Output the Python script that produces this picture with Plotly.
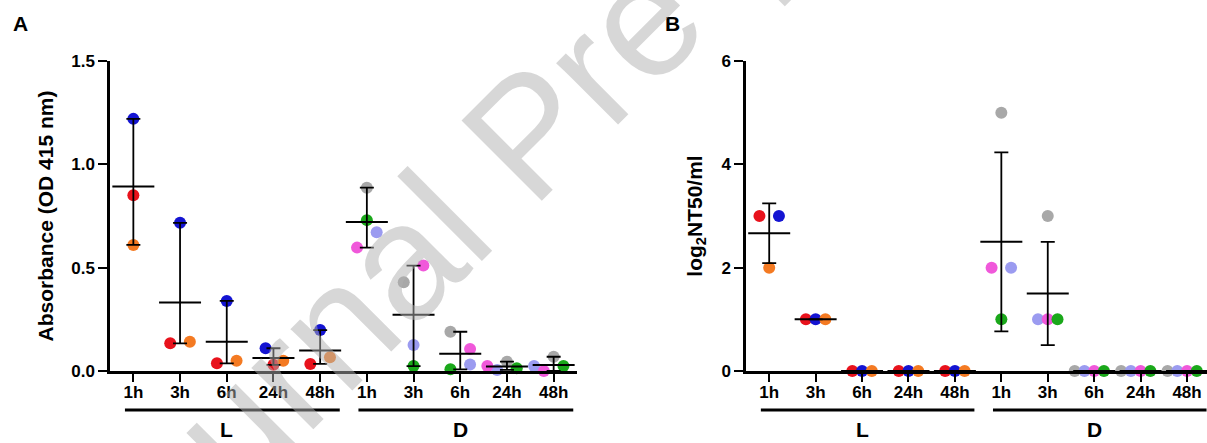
import numpy as np
import plotly.graph_objects as go

# ---------------- data ----------------
timepoints = ["1h", "3h", "6h", "24h", "48h"]
groups = ["L", "D"]

# Panel A : Absorbance (OD 415 nm), one list per subject
A_L_red = [0.850, 0.134, 0.037, 0.030, 0.034]
A_L_blue = [1.220, 0.717, 0.339, 0.110, 0.198]
A_L_orange = [0.610, 0.142, 0.050, 0.050, 0.066]
A_D_gray = [0.887, 0.429, 0.190, 0.045, 0.069]
A_D_lavender = [0.671, 0.126, 0.032, 0.005, 0.024]
A_D_pink = [0.597, 0.510, 0.106, 0.024, 0.000]
A_D_green = [0.730, 0.024, 0.008, 0.013, 0.024]

# Panel B : log2 NT50/ml
B_L_red = [3, 1, 0, 0, 0]
B_L_blue = [3, 1, 0, 0, 0]
B_L_orange = [2, 1, 0, 0, 0]
B_D_gray = [5, 3, 0, 0, 0]
B_D_lavender = [2, 1, 0, 0, 0]
B_D_pink = [2, 1, 0, 0, 0]
B_D_green = [1, 1, 0, 0, 0]

# ---------------- style ----------------
COL = {"red": "#e8121c", "blue": "#1414d2", "orange": "#f47a22",
       "gray": "#a8a8a8", "lavender": "#9b9bf0", "pink": "#f058da", "green": "#1aa81a"}

# horizontal spreading of overlapping dots (in slot units)
SLOT = 0.21
jit_A = {
    "L": {"red": [0, -1, -1, 0, -1], "blue": [0, 0, 0, -0.8, 0], "orange": [0, 1, 1, 1, 1]},
    "D": {"gray": [0, -1, -1, 0, 0], "lavender": [1, 0, 1, -1, -2],
          "pink": [-1, 1, 1, -2, -1], "green": [0, 0, -1, 1, 1]},
}
jit_B = {
    "L": {"red": [-1, -1, -1, -1, -1], "blue": [1, 0, 0, 0, 0], "orange": [0, 1, 1, 1, 1]},
    "D": {"gray": [0, 0, -2, -2, -2], "lavender": [1, -1, -1, -1, -1],
          "pink": [-1, 0, 0, 0, 0], "green": [0, 1, 1, 1, 1]},
}

panel_A = {"L": {"red": A_L_red, "blue": A_L_blue, "orange": A_L_orange},
           "D": {"gray": A_D_gray, "lavender": A_D_lavender, "pink": A_D_pink, "green": A_D_green}}
panel_B = {"L": {"red": B_L_red, "blue": B_L_blue, "orange": B_L_orange},
           "D": {"gray": B_D_gray, "lavender": B_D_lavender, "pink": B_D_pink, "green": B_D_green}}

W, H = 1207, 443
FONT = "Arial, Liberation Sans, sans-serif"


def px(x):
    return x / W


def py(y):
    return 1 - y / H


fig = go.Figure()


def add_panel(panel, jit, xa, ya, err_mode):
    n = len(timepoints)
    for gi, g in enumerate(groups):
        base = np.arange(n) + gi * n
        subj = panel[g]
        for name, vals in subj.items():
            xs = base + np.array(jit[g][name]) * SLOT
            fig.add_trace(go.Scatter(
                x=xs, y=vals, mode="markers", xaxis=xa, yaxis=ya,
                marker=dict(size=12, color=COL[name], line=dict(width=0)),
                cliponaxis=False, showlegend=False, name=f"{g} {name}"))
        arr = np.array(list(subj.values()), dtype=float)
        mean = arr.mean(axis=0)
        if err_mode == "range":
            up = arr.max(axis=0) - mean
            dn = mean - arr.min(axis=0)
        else:
            sd = arr.std(axis=0, ddof=1)
            up, dn = sd, sd
        fig.add_trace(go.Scatter(
            x=base, y=mean, mode="markers", xaxis=xa, yaxis=ya,
            marker=dict(symbol="line-ew", size=30, color="black",
                        line=dict(width=2, color="black")),
            error_y=dict(type="data", symmetric=False, array=up, arrayminus=dn,
                         width=7, thickness=1.8, color="black"),
            cliponaxis=False, showlegend=False, name=f"{g} mean"))


add_panel(panel_A, jit_A, "x", "y", "range")
add_panel(panel_B, jit_B, "x2", "y2", "sd")

ticktext = timepoints * len(groups)
tickvals = list(range(len(ticktext)))

axis_common = dict(showline=True, linewidth=2.5, linecolor="black", showgrid=False,
                   zeroline=False, ticks="outside", tickwidth=2, tickcolor="black",
                   automargin=False,
                   tickfont=dict(family=FONT, size=17, color="black", weight="bold"))

y_dom = [py(371), py(61)]

fig.update_layout(
    width=W, height=H, margin=dict(l=0, r=0, t=0, b=0, pad=0),
    paper_bgcolor="white", plot_bgcolor="white",
    xaxis=dict(domain=[px(110), px(577)], range=[-0.5, 9.5], anchor="y",
               tickvals=tickvals, ticktext=ticktext, ticklen=8, ticklabelstandoff=-4,
               **axis_common),
    yaxis=dict(domain=y_dom, range=[0, 1.5], anchor="x",
               tickvals=[0, 0.5, 1.0, 1.5], ticktext=["0.0", "0.5", "1.0", "1.5"], ticklen=9,
               title=dict(text="Absorbance (OD 415 nm)", standoff=12,
                          font=dict(family=FONT, size=21, color="black", weight="bold")),
               **axis_common),
    xaxis2=dict(domain=[px(746), 1.0], range=[-0.5, 9.43], anchor="y2",
                tickvals=tickvals, ticktext=ticktext, ticklen=8, ticklabelstandoff=-4,
                **axis_common),
    yaxis2=dict(domain=y_dom, range=[0, 6], anchor="x2",
                tickvals=[0, 2, 4, 6], ticktext=["0", "2", "4", "6"], ticklen=9,
                title=dict(text="log<sub>2</sub>NT50/ml", standoff=14,
                           font=dict(family=FONT, size=21, color="black", weight="bold")),
                **axis_common),
)

# group bars and labels under each panel
n = len(timepoints)
for xref in ["x", "x2"]:
    for gi, g in enumerate(groups):
        x0 = gi * n - 0.18
        x1 = gi * n + (n - 1) + 0.42
        fig.add_shape(type="line", xref=xref, yref="paper", x0=x0, x1=x1,
                      y0=py(410), y1=py(410), line=dict(color="black", width=3))
        fig.add_annotation(xref=xref, yref="paper", x=gi * n + (n - 1) / 2, y=0.0,
                           text=g, showarrow=False, yanchor="bottom",
                           font=dict(family=FONT, size=21, color="black", weight="bold"))

# panel letters
for letter, xx, yy in [("A", 20, 24), ("B", 672, 23)]:
    fig.add_annotation(xref="paper", yref="paper", x=px(xx), y=py(yy), text=letter,
                       showarrow=False, xanchor="center", yanchor="middle",
                       font=dict(family=FONT, size=21, color="black", weight="bold"))

# watermark
fig.add_annotation(xref="paper", yref="paper", x=px(528), y=py(134),
                   text="Journal Pre-proof", showarrow=False, textangle=-45,
                   xanchor="center", yanchor="middle",
                   font=dict(family=FONT, size=165, color="rgba(175,175,175,0.5)", weight="normal"))

fig.write_html("out.html")
